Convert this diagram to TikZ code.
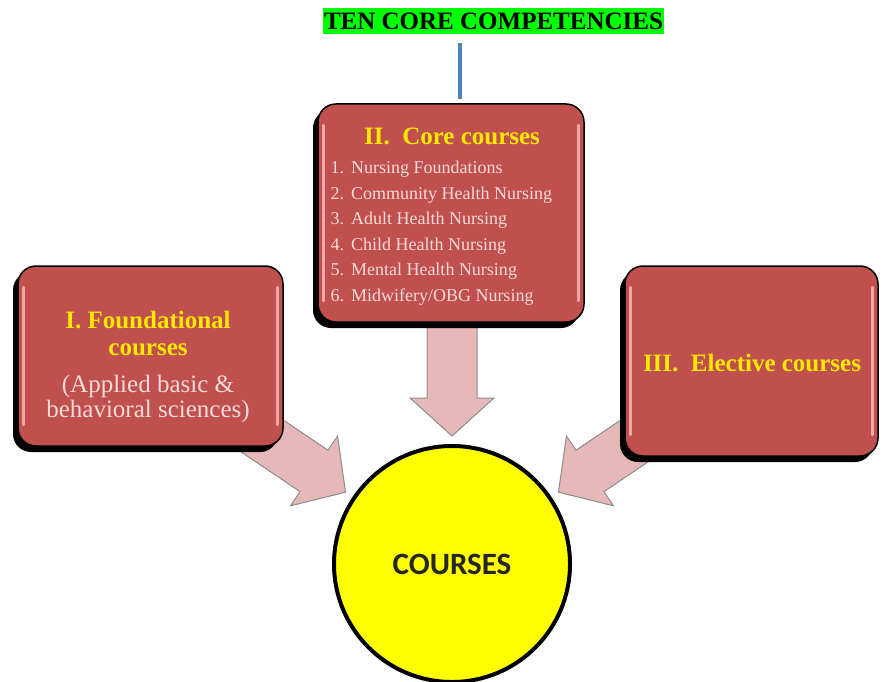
\documentclass[tikz,border=0pt]{standalone}
\usepackage{fontspec}
\setmainfont{Liberation Serif}
\newfontfamily\calfont{Carlito}
\usetikzlibrary{calc,positioning,shadows,backgrounds}
\definecolor{my_brick}{RGB}{192,80,77}
\definecolor{my_gold}{RGB}{255,232,0}
\definecolor{my_pale}{RGB}{244,218,216}
\definecolor{my_rose}{RGB}{230,185,184}
\definecolor{my_hl}{RGB}{240,168,166}
\definecolor{my_green}{RGB}{0,255,0}
\definecolor{my_blue}{RGB}{79,129,189}
\definecolor{my_yellow}{RGB}{255,255,0}
\tikzset{
  crs_box/.style = {rectangle, rounded corners=18pt, fill=my_brick, draw=black, line width=1.5pt,
  drop shadow={shadow xshift=-5pt, shadow yshift=-6pt, opacity=1, fill=black}},
  crs_hl/.style = {draw=my_hl, line width=3pt, line cap=round},
  crs_head/.style = {align=center, text=my_gold, font=\fontsize{25}{27}\selectfont\bfseries},
  crs_text/.style = {align=center, text=my_pale, font=\fontsize{25}{25}\selectfont},
  crs_list/.style = {align=left, text=my_pale, font=\fontsize{18}{25.5}\selectfont},
  blk_arrow/.style = {fill=my_rose, draw=black!45, line width=1pt}
}
\newcommand{\blockarrow}[2]{%
  \begin{scope}[shift={(#1)}, rotate=#2]
    \draw[blk_arrow] (0,0) -- (-38,42) -- (-38,25) -- (-112,25) -- (-112,-25) -- (-38,-25) -- (-38,-42) -- cycle;
  \end{scope}}

\begin{document}
\begin{tikzpicture}[x=1pt, y=-1pt,
        ttl_box/.style={fill=my_green, inner xsep=1pt, inner ysep=5pt, font=\fontsize{25}{25}\selectfont\bfseries},
        goal/.style={circle, minimum size=236pt, fill=my_yellow, draw=black, line width=4pt,
          text=black!85, font=\calfont\fontsize{31}{31}\selectfont\bfseries}]
    \useasboundingbox (0,0) rectangle (883,682);

    % title and line
    \node[ttl_box] (ttl) at (493.5,21) {TEN CORE COMPETENCIES};

    % three groups of courses
    \node[crs_box, minimum width=266pt, minimum height=218pt] (core) at (451,213) {};
    \node[crs_box, minimum width=265pt, minimum height=180pt] (fnd) at (150.5,356) {};
    \node[crs_box, minimum width=253pt, minimum height=190pt] (elc) at (751.5,361) {};
    \foreach \b in {core,fnd,elc} {
        \draw[crs_hl] ($(\b.north west)+(6,22)$) -- ($(\b.south west)+(6,-22)$);
        \draw[crs_hl] ($(\b.north east)+(-6,22)$) -- ($(\b.south east)+(-6,-22)$);
    }

    \coordinate (ln_top) at (460,43);
    \draw[my_blue, line width=4pt, shorten >=4pt] (ln_top) -- (ln_top |- core.north);

    \node[crs_head] (core_t) at (452,136) {II.~~Core courses};
    \node[crs_list, anchor=west] (core_l) at (327,233) {1.\hspace{7pt}Nursing Foundations\\
        2.\hspace{7pt}Community Health Nursing\\
        3.\hspace{7pt}Adult Health Nursing\\
        4.\hspace{7pt}Child Health Nursing\\
        5.\hspace{7pt}Mental Health Nursing\\
        6.\hspace{7pt}Midwifery/OBG Nursing};

    \node[crs_head] (fnd_t) at (148,333.5) {I. Foundational\\courses};
    \node[crs_text, below=12pt of fnd_t] (fnd_s) {(Applied basic \&\\behavioral sciences)};

    \node[crs_head] (elc_t) at (752,363) {III.~~Elective courses};

    % the centre
    \node[goal] (crs) at (452,564) {COURSES};

    \coordinate (tip_c) at ($(crs.north)+(0,-8)$);
    \coordinate (tip_l) at ($(crs.center)!1.07!(crs.146)$);
    \coordinate (tip_r) at ($(crs.center)!1.07!(crs.34)$);
    \begin{scope}[on background layer]
        \blockarrow{tip_c}{-90}
        \blockarrow{tip_l}{-34}
        \blockarrow{tip_r}{-146}
    \end{scope}
\end{tikzpicture}
\end{document}
